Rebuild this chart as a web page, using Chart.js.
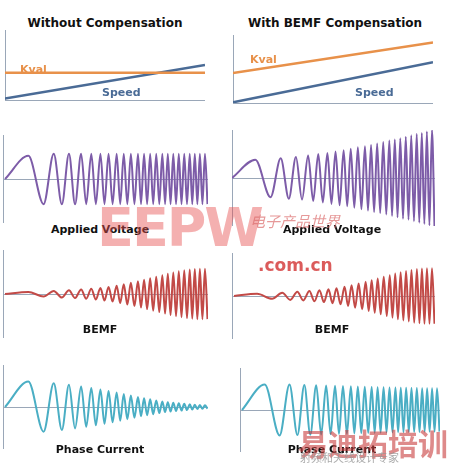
<!DOCTYPE html>
<html><head><meta charset="utf-8">
<script src="https://cdn.jsdelivr.net/npm/chart.js@4"></script>
<style>
body{margin:0;background:#fff;width:451px;height:465px;position:relative;overflow:hidden;font-family:"DejaVu Sans",sans-serif}
.p{position:absolute}
.t{position:absolute;font-weight:bold;font-size:11px;color:#111;white-space:nowrap;transform:translateX(-50%)}
.wm{position:absolute;white-space:nowrap}
</style></head><body>
<script>
// extrema positions (shared chirp timing, x from 0..200)
const waveX=[0,23,38,48,56,63,69,75,80,85,89.5,94,98,102,106,110,113.5,117,120.5,124,127.5,131,134,137,140,143,146,149,152,155,157.7,160.4,163.1,165.8,168.5,171.2,173.9,176.6,179.3,182,184.5,187,189.5,192,194.5,197,199.5];
const ampApplLeft=[0,.92,1,1,1,1,1,1,1,1,1,1,1,1,1,1,1,1,1,1,1,1,1,1,1,1,1,1,1,1,1,1,1,1,1,1,1,1,1,1,1,1,1,1,1,1,1];
const ampApplRight=[0,.38,.40,.41,.43,.44,.45,.47,.48,.50,.51,.52,.54,.55,.57,.58,.59,.61,.62,.64,.65,.66,.68,.69,.71,.72,.73,.75,.76,.78,.79,.80,.82,.83,.85,.86,.87,.89,.90,.92,.93,.94,.96,.97,.99,1,1];
const ampBemf=[0,.08,.10,.12,.14,.15,.16,.18,.19,.21,.22,.24,.26,.28,.30,.33,.36,.39,.42,.45,.48,.51,.54,.57,.60,.63,.66,.69,.72,.75,.78,.81,.84,.86,.88,.90,.92,.94,.96,.97,.98,.99,1,1,1,1,1];
const ampCurLeft=[0,1,.97,.93,.90,.87,.84,.81,.78,.75,.72,.69,.66,.63,.60,.57,.54,.51,.48,.45,.42,.39,.36,.34,.32,.30,.28,.26,.24,.22,.20,.19,.18,.17,.16,.15,.14,.13,.12,.11,.10,.09,.08,.08,.07,.07,.06];
const ampCurRight=[0,1,1,1,.98,.98,.97,.97,.96,.96,.95,.95,.94,.94,.93,.93,.92,.92,.91,.91,.90,.90,.90,.89,.89,.89,.88,.88,.88,.88,.87,.87,.87,.87,.86,.86,.86,.86,.86,.85,.85,.85,.85,.85,.85,.85,.85];
// top panels: [start,end] on 0..10 scale
const kvalLeft=[3.9,3.9], speedLeft=[0.2,5.0];
const kvalRight=[4.4,8.9], speedRight=[0.1,6.0];

const titles=[["Without Compensation",105,16,12],["With BEMF Compensation",335,16,12],
["Applied Voltage",100,223,11],["Applied Voltage",332,223,11],["BEMF",100,323,11],["BEMF",332,323,11],
["Phase Current",100,443,11],["Phase Current",332,443,11]];

function panel(l,t,w,h,datasets,ymin,ymax,xmin,xmax,zero){
  const d=document.createElement('div');d.className='p';
  d.style.cssText=`left:${l}px;top:${t}px;width:${w}px;height:${h}px`;
  const c=document.createElement('canvas');d.appendChild(c);document.body.appendChild(d);
  new Chart(c,{type:'line',data:{datasets},options:{responsive:true,maintainAspectRatio:false,animation:false,
    layout:{padding:0},plugins:{legend:{display:false},tooltip:{enabled:false}},
    elements:{point:{radius:0}},
    scales:{x:{type:'linear',min:xmin,max:xmax,position:zero?{y:0}:'bottom',grid:{display:false},ticks:{display:false},border:{color:'#9aa7b8',width:1}},
            y:{min:ymin,max:ymax,grid:{display:false},ticks:{display:false},border:{color:'#9aa7b8',width:1},afterFit:s=>{s.width=0}}}}});
}
function wave(amp,color){
  return {data:waveX.map((x,i)=>({x,y:(i%2?1:-1)*amp[i]})),borderColor:color,borderWidth:2,cubicInterpolationMode:'monotone',fill:false};
}
function seg(v,color){return {data:[{x:0,y:v[0]},{x:10,y:v[1]}],borderColor:color,borderWidth:2.5};}
const orange='#e8914a',blue='#4a6b96',purple='#7d5ca8',red='#c24a47',teal='#4aaec4';
panel(5,30,200,78,[seg(kvalLeft,orange),seg(speedLeft,blue)],0,10,0,10,false);
panel(233,35,200,76,[seg(kvalRight,orange),seg(speedRight,blue)],0,10,0,10,false);
panel(3,135,205,88,[wave(ampApplLeft,purple)],-1.75,1.75,-2,200,true);
panel(232,130,203,96,[wave(ampApplRight,purple)],-1.0,1.0,0,200,true);
panel(3,250,205,88,[wave(ampBemf,red)],-1.75,1.75,-2,200,true);
panel(232,253,203,86,[wave(ampBemf,red)],-1.55,1.55,-2,200,true);
panel(3,365,205,84,[wave(ampCurLeft,teal)],-1.65,1.65,-2,200,true);
panel(240,368,200,84,[wave(ampCurRight,teal)],-1.65,1.65,-2,200,true);

for(const [s,x,y,f] of titles){const e=document.createElement('div');e.className='t';e.textContent=s;e.style.left=x+'px';e.style.top=y+'px';e.style.fontSize=f+'px';document.body.appendChild(e);}
function lab(s,x,y,col){const e=document.createElement('div');e.className='wm';e.style.cssText=`left:${x}px;top:${y}px;color:${col};font-weight:bold;font-size:11px`;e.textContent=s;document.body.appendChild(e);}
lab('Kval',20,63,orange);lab('Speed',102,86,blue);lab('Kval',250,53,orange);lab('Speed',355,86,blue);
function wm(s,x,y,css){const e=document.createElement('div');e.className='wm';e.style.cssText=`left:${x}px;top:${y}px;`+css;e.textContent=s;document.body.appendChild(e);}
wm('EEPW',97,196,'font:bold 54px "DejaVu Sans";color:rgba(230,80,80,0.45);letter-spacing:-2px');
wm('.com.cn',258,255,'font:bold 17px "DejaVu Sans";color:rgba(210,50,50,0.8)');
wm('电子产品世界',250,210,'font:italic 15px "Noto Sans CJK SC";color:rgba(220,110,110,0.7)');
wm('易迪拓培训',298,420,'font:bold 30px "Noto Sans CJK SC";color:rgba(200,60,60,0.6)');
wm('射频和天线设计专家',300,449,'font:11px "Noto Sans CJK SC";color:rgba(150,150,150,0.8)');
</script></body></html>
